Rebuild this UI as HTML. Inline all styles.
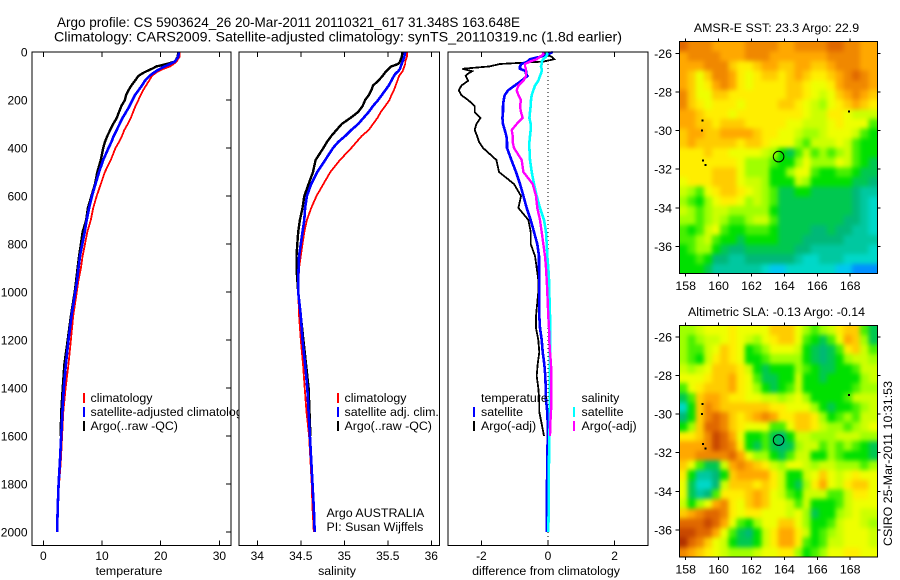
<!DOCTYPE html>
<html>
<head>
<meta charset="utf-8">
<title>Argo profile</title>
<style>
html,body{margin:0;padding:0;background:#fff;}
svg{display:block;}
text{font-family:"Liberation Sans",Arial,sans-serif;font-size:12.4px;fill:#000;}
</style>
</head>
<body>
<svg id="chart" xmlns="http://www.w3.org/2000/svg" width="900" height="580" viewBox="0 0 900 580">
<defs>
<filter id="mapSmooth" filterUnits="userSpaceOnUse" x="660" y="20" width="240" height="560" color-interpolation-filters="sRGB">
<feGaussianBlur stdDeviation="2.4"/>
<feComponentTransfer><feFuncA type="linear" slope="60" intercept="0"/></feComponentTransfer>
</filter>
<clipPath id="clipSst"><rect x="679.3" y="41.5" width="198" height="232"/></clipPath>
<clipPath id="clipSla"><rect x="679.3" y="325.5" width="198" height="231.5"/></clipPath>
</defs>
<rect x="0" y="0" width="900" height="580" fill="#fff"/>
<text x="57" y="27" textLength="463" lengthAdjust="spacingAndGlyphs" style="font-size:13.6px">Argo profile: CS 5903624_26 20-Mar-2011 20110321_617 31.348S 163.648E</text>
<text x="54" y="41.5" textLength="568" lengthAdjust="spacingAndGlyphs" style="font-size:13.6px">Climatology: CARS2009. Satellite-adjusted climatology: synTS_20110319.nc (1.8d earlier)</text>
<g id="layer"></g>
<text transform="translate(892,463.5) rotate(-90)" text-anchor="middle" textLength="165">CSIRO 25-Mar-2011 10:31:53</text>
</svg>
<script>
// ---------- profile data ----------
const profileDepths=[0,20,40,50,60,70,80,90,100,120,140,160,180,200,225,250,275,300,325,350,375,400,450,500,550,600,650,700,750,800,850,900,950,1000,1100,1200,1300,1400,1500,1600,1700,1800,1900,2000];
const tempClim=[23.2,23.2,22.7,22.2,21.6,20.5,19.6,19.0,18.5,18.0,17.5,17.0,16.6,16.2,15.7,15.3,14.9,14.4,13.8,13.4,12.9,12.3,11.5,10.5,9.8,9.1,8.5,8.1,7.5,7.1,6.7,6.4,6.0,5.7,5.1,4.7,4.3,3.8,3.4,3.2,3.0,2.7,2.45,2.3];
const tempSat=[23.1,23.0,22.4,21.6,20.7,19.9,19.2,18.6,18.1,17.3,16.8,16.2,15.6,15.2,14.7,14.1,13.5,13.0,12.5,12.0,11.6,11.1,10.2,9.5,8.9,8.3,7.8,7.4,7.05,6.65,6.25,6.0,5.75,5.45,4.8,4.3,3.85,3.5,3.25,3.05,2.85,2.6,2.45,2.35];
const tempArgo=[23.0,22.9,22.4,21.0,19.3,18.5,17.6,16.8,16.2,15.6,15.0,14.5,14.1,13.9,13.3,12.9,12.5,11.9,11.4,10.9,10.5,10.2,9.8,9.2,8.8,8.2,7.6,7.3,6.7,6.4,6.1,5.85,5.6,5.35,4.7,4.15,3.6,3.3,3.05,2.95];
const salClim=[35.72,35.72,35.70,35.70,35.69,35.68,35.67,35.65,35.63,35.61,35.59,35.57,35.54,35.52,35.47,35.42,35.38,35.33,35.28,35.2,35.14,35.08,34.95,34.84,34.76,34.68,34.62,34.57,34.54,34.52,34.5,34.48,34.475,34.47,34.48,34.5,34.525,34.545,34.565,34.595,34.61,34.625,34.635,34.65];
const salSat=[35.70,35.69,35.67,35.66,35.65,35.64,35.62,35.59,35.57,35.54,35.51,35.47,35.43,35.39,35.33,35.28,35.22,35.16,35.08,35.01,34.93,34.87,34.78,34.69,34.62,34.57,34.55,34.54,34.52,34.5,34.48,34.475,34.47,34.47,34.5,34.52,34.55,34.575,34.59,34.605,34.62,34.635,34.65,34.66];
const salArgo=[35.67,35.66,35.64,35.62,35.54,35.51,35.48,35.46,35.44,35.39,35.33,35.31,35.28,35.24,35.21,35.16,35.07,34.97,34.91,34.85,34.8,34.76,34.67,34.64,34.59,34.54,34.52,34.49,34.47,34.46,34.45,34.45,34.46,34.47,34.5,34.53,34.56,34.59,34.6,34.61];
const diffDepths=[0,10,20,30,40,50,60,70,80,90,100,120,140,160,180,200,225,250,275,300,325,350,375,400,450,500,550,600,650,700,750,800,850,900,950,1000,1100,1150,1200,1250,1300,1350,1400,1450,1500,1550,1600,1700,1800,1900,2000];
const diffTempArgo=[-0.14,-0.04,0.11,0.19,-0.14,-1.45,-1.75,-2.57,-2.28,-2.4,-2.47,-2.4,-2.6,-2.68,-2.6,-2.4,-2.2,-2.2,-2.03,-2.15,-2.2,-2.13,-2.07,-1.95,-1.55,-1.47,-1.02,-0.81,-0.89,-0.59,-0.52,-0.52,-0.39,-0.34,-0.29,-0.29,-0.36,-0.36,-0.29,-0.26,-0.31,-0.34,-0.29,-0.26,-0.26,-0.19,-0.12];
const diffTempSat=[0.14,0,-0.24,-0.54,-0.62,-0.8,-0.84,-0.84,-0.66,-0.66,-0.62,-0.8,-1,-1.2,-1.3,-1.33,-1.35,-1.35,-1.37,-1.35,-1.3,-1.25,-1.23,-1.23,-1.1,-0.96,-0.84,-0.74,-0.64,-0.52,-0.42,-0.32,-0.27,-0.27,-0.26,-0.26,-0.26,-0.24,-0.19,-0.16,-0.11,-0.08,-0.07,-0.06,-0.02,-0.01,-0.01,-0.02,-0.03,-0.04,-0.04];
const diffSalArgo=[-0.14,-0.14,-0.24,-0.34,-0.54,-0.69,-0.69,-0.66,-0.66,-0.66,-0.66,-0.74,-0.89,-0.94,-0.89,-0.81,-0.84,-0.81,-0.76,-0.94,-1.09,-1.06,-1.06,-1.02,-0.79,-0.74,-0.46,-0.36,-0.32,-0.24,-0.19,-0.14,-0.09,-0.06,-0.04,-0.02,0.01,0.03,0.04,0.06,0.09,0.1,0.1,0.1,0.09,0.07,0.06];
const diffSalSat=[-0.04,-0.02,-0.06,-0.14,-0.19,-0.19,-0.21,-0.19,-0.19,-0.21,-0.24,-0.29,-0.39,-0.44,-0.49,-0.51,-0.52,-0.54,-0.56,-0.52,-0.52,-0.54,-0.56,-0.56,-0.54,-0.49,-0.42,-0.34,-0.24,-0.12,-0.06,-0.04,-0.02,0.01,0.03,0.04,0.06,0.06,0.06,0.06,0.05,0.05,0.05,0.05,0.05,0.05,0.04,0.03,0.02,0.02,0.01];
// ---------- tick labels ----------
const depthTicks=[0,200,400,600,800,1000,1200,1400,1600,1800,2000];
const tempTicks=[0,10,20,30];
const salTicks=[34,34.5,35,35.5,36];
const diffTicks=[-2,0,2];
const lonTicks=[158,160,162,164,166,168];
const latTicks=[-26,-28,-30,-32,-34,-36];
// ---------- map data: colour level per 0.5 degree cell, north to south ----------
const sstGrid=[
[15,14,14,14,13,13,13,13,14,14,14,14,13,13,14,14,14,14,15,15,14,14,13,13],
[13,14,14,14,14,13,13,13,14,14,14,13,13,13,13,13,13,13,14,14,14,14,13,13],
[13,13,13,14,14,14,12,11,11,12,13,13,12,12,13,13,12,12,13,14,14,14,13,13],
[13,12,10,12,14,14,13,11,10,11,12,12,11,12,13,12,11,11,12,13,14,15,14,13],
[13,12,10,11,13,14,13,11,10,11,11,11,11,12,12,11,10,10,11,13,14,14,14,13],
[14,12,10,10,12,12,11,11,11,11,11,11,11,12,12,11,10,9,10,12,13,14,13,12],
[14,12,11,10,11,11,11,10,11,11,11,11,12,12,11,10,9,8,10,11,12,13,12,11],
[13,13,12,11,11,11,10,11,11,11,11,11,11,11,11,10,9,9,11,11,10,9,9,9],
[13,13,12,12,11,12,12,12,11,11,11,11,11,10,10,9,9,9,10,11,10,10,10,7],
[12,13,13,12,12,13,13,13,13,12,11,11,10,10,9,8,8,9,10,10,10,9,7,6],
[12,13,12,12,12,12,12,11,12,12,11,10,10,10,8,7,9,9,9,10,9,7,6,6],
[11,11,11,12,11,11,10,10,10,10,9,8,6,5,7,9,7,8,7,8,9,7,6,6],
[11,11,11,11,11,11,11,10,8,8,8,7,6,6,8,10,8,8,8,10,9,7,6,5],
[11,11,11,11,12,12,12,10,8,8,8,6,6,8,10,10,7,6,6,7,7,6,5,5],
[10,11,11,11,12,12,12,10,9,9,8,6,6,6,9,8,6,6,6,6,6,5,5,4],
[9,8,7,10,11,12,12,11,10,9,8,7,5,5,6,6,5,5,5,5,5,4,3,3],
[8,7,6,8,10,11,11,10,8,9,8,7,5,5,5,5,5,5,5,5,5,4,3,2],
[9,8,7,8,9,9,8,8,8,8,8,6,5,5,5,5,5,5,5,5,5,4,3,2],
[8,8,7,8,9,8,7,7,8,9,9,7,5,5,5,5,5,5,5,5,4,4,3,2],
[7,6,7,9,10,7,6,6,7,7,7,6,5,5,5,5,4,4,5,4,4,3,3,2],
[7,7,8,9,7,6,6,5,6,6,6,6,5,5,5,4,4,4,4,4,3,3,3,3],
[6,7,8,8,6,5,4,4,5,5,5,5,5,5,4,4,3,3,3,3,3,3,3,2],
[6,6,7,6,4,4,3,3,4,4,4,4,4,4,3,2,2,3,3,3,2,2,2,2],
[6,6,6,5,3,3,3,3,3,3,2,1,1,2,2,2,2,2,2,1,1,0,0,0]
];
const slaGrid=[
[8,8,9,10,10,10,11,10,10,10,10,12,12,12,10,8,7,8,9,11,12,12,7,5],
[8,7,8,9,9,10,11,10,9,8,10,11,12,12,10,7,6,5,7,10,13,12,8,5],
[8,7,7,9,10,12,11,10,6,7,8,10,10,10,9,6,5,4,5,7,11,12,9,7],
[8,7,6,9,11,12,11,10,6,6,7,8,8,8,8,6,5,4,5,6,8,9,9,8],
[9,8,9,10,12,12,12,11,9,6,5,6,6,6,8,7,6,5,5,6,6,7,9,9],
[10,10,10,11,12,12,13,11,10,7,5,5,6,6,9,6,6,5,6,6,6,6,8,9],
[7,10,11,12,12,12,13,11,10,8,6,5,6,7,9,6,6,6,6,6,6,7,8,8],
[5,7,12,13,13,12,11,11,10,10,9,9,8,9,10,8,6,6,6,6,7,9,9,9],
[2,6,12,14,13,12,12,12,12,12,12,11,11,10,10,10,8,6,5,6,6,7,8,9],
[4,6,12,14,15,14,12,11,12,13,14,13,11,11,12,12,11,8,6,7,8,7,9,9],
[6,8,12,15,15,14,12,11,10,10,10,7,7,10,12,12,11,9,8,8,7,8,9,10],
[11,11,12,14,16,15,13,10,6,6,7,5,4,6,9,9,8,8,8,9,9,9,8,8],
[13,13,13,14,16,15,14,11,6,5,7,5,4,5,8,9,9,7,8,7,8,7,6,5],
[13,13,14,14,14,14,15,13,10,8,8,6,5,7,9,9,6,6,8,7,6,6,6,5],
[12,10,7,5,5,9,13,14,13,12,11,9,8,10,10,9,8,9,9,8,8,8,7,8],
[11,6,3,3,4,6,12,13,13,13,13,11,9,6,6,9,10,12,10,9,10,11,10,10],
[10,5,2,2,4,9,12,12,12,11,12,11,9,6,5,8,11,13,10,9,11,12,12,10],
[10,5,3,4,7,11,11,11,12,13,12,10,9,7,6,9,9,9,7,7,9,11,11,10],
[9,6,8,10,13,14,11,10,12,13,12,10,10,9,7,9,6,6,6,7,9,10,10,10],
[12,13,14,15,15,14,11,10,11,11,10,10,10,9,10,8,5,6,6,8,9,10,9,9],
[15,15,15,16,15,13,10,7,6,8,10,10,12,12,10,8,6,6,7,9,10,10,9,8],
[16,16,15,15,13,10,7,5,4,6,9,11,13,13,11,9,6,7,8,9,10,10,10,9],
[17,15,14,12,10,9,6,5,5,6,9,11,13,13,11,7,6,7,9,9,10,10,10,9],
[14,13,12,11,10,9,8,8,8,9,10,10,11,11,8,6,7,8,10,10,11,11,10,10]
];
const levelColours=["#0090ff","#00c8f0","#00d8c8","#00c8a0","#00b878","#00c850","#00e000","#48f000","#a0ff00","#ccff00","#eeff00","#ffee00","#ffcc00","#ffa800","#f08800","#e06800","#c84800","#b03000"];
const gridWestLon=157.6;
const gridNorthLat=-25.4;
const gridStepDeg=0.5;
const profileLon=163.648;
const profileLat=-31.348;
const islandLons=[159.01,159.0,159.05,159.19,167.93];
const islandLats=[-29.47,-30.0,-31.55,-31.78,-29.02];

const NS="http://www.w3.org/2000/svg";
const layer=document.getElementById("layer");
function el(tag,attrs,parent){
  const e=document.createElementNS(NS,tag);
  for(const k in attrs){e.setAttribute(k,attrs[k]);}
  (parent||layer).appendChild(e);
  return e;
}
function lbl(str,x,y,anchor,name,parent){
  const t=el("text",{x:x,y:y,"text-anchor":anchor},parent);
  
  
  t.textContent=str;
  return t;
}
function seg(x1,y1,x2,y2,name,parent){
  const l=el("line",{x1:x1,y1:y1,x2:x2,y2:y2,stroke:"#000","stroke-width":1,"shape-rendering":"crispEdges"},parent);
  
  
  return l;
}
const TOP=52,BOTTOM=545.5;
function yDepth(d){return 52+0.24*d;}

function drawPanel(cfg){
  const g=el("g",{});
  
  
  const frame=el("rect",{x:cfg.left,y:TOP,width:cfg.right-cfg.left,height:BOTTOM-TOP,fill:"#fff",stroke:"none"},g);
  
  
  cfg.ticks.forEach(function(v){
    const x=cfg.x(v);
    seg(x,TOP,x,TOP+5,'x-tick-top',g);
    seg(x,BOTTOM,x,BOTTOM-5,'x-tick-bottom',g);
    const tick=lbl(String(v),x,560,"middle",'x-tick-label',g);
    tick.style.fontSize="12px";
  });
  if(cfg.depthAxis){
    depthTicks.forEach(function(d){
      seg(cfg.right,yDepth(d),cfg.right-5,yDepth(d),'y-tick',g);
      const dl=lbl(String(d),27.5,yDepth(d)+4.5,"end",'y-tick-label',g);
      dl.style.fontSize="12px";
    });
  }
  if(cfg.zero){
    const z=el("line",{x1:cfg.x(0),y1:TOP,x2:cfg.x(0),y2:BOTTOM,stroke:"#000","stroke-width":1,"stroke-dasharray":"1 3","shape-rendering":"crispEdges"},g);
    
    
  }
  cfg.series.forEach(function(s){
    const pts=s.values.map(function(v,i){return cfg.x(v).toFixed(1)+","+yDepth(s.depths[i]).toFixed(1);}).join(" ");
    const p=el("polyline",{points:pts,fill:"none",stroke:s.color,"stroke-width":s.width,"stroke-linejoin":"miter","shape-rendering":"crispEdges"},g);
    
    
  });
  cfg.legend.forEach(function(e){
    if(e.color){
      const h=el("line",{x1:e.hx,y1:e.y-5,x2:e.hx,y2:e.y+5,stroke:e.color,"stroke-width":2,"shape-rendering":"crispEdges"},g);
      
      
    }
    lbl(e.text,e.tx,e.y+4,"start",'legend-entry',g);
  });
  const border=el("rect",{x:cfg.left,y:TOP,width:cfg.right-cfg.left,height:BOTTOM-TOP,fill:"none",stroke:"#000","stroke-width":1,"shape-rendering":"crispEdges"},g);
  
  
  lbl(cfg.title,cfg.titleX,575,"middle",cfg.name+'-x-axis-title',g);
}

const x1=function(v){return 43.3+5.87*v;};
const x2=function(v){return 257.3+87*(v-34);};
const x3=function(v){return 548+33.3*v;};

drawPanel({name:"temperature-panel",left:32,right:231,x:x1,ticks:tempTicks,depthAxis:true,title:"temperature",titleX:129,
 series:[
  {name:"temperature-climatology-line",values:tempClim,depths:profileDepths,color:"#ff0000",width:1.8},
  {name:"temperature-argo-line",values:tempArgo,depths:profileDepths,color:"#000",width:2.4},
  {name:"temperature-satellite-line",values:tempSat,depths:profileDepths,color:"#0000ff",width:2.6}],
 legend:[
  {color:"#ff0000",hx:84,tx:90.5,y:398,text:"climatology"},
  {color:"#0000ff",hx:84,tx:90.5,y:412,text:"satellite-adjusted climatology"},
  {color:"#000",hx:84,tx:90.5,y:426,text:"Argo(..raw -QC)"}]});

drawPanel({name:"salinity-panel",left:239,right:439.5,x:x2,ticks:salTicks,depthAxis:false,title:"salinity",titleX:337,
 series:[
  {name:"salinity-climatology-line",values:salClim,depths:profileDepths,color:"#ff0000",width:1.8},
  {name:"salinity-argo-line",values:salArgo,depths:profileDepths,color:"#000",width:2.4},
  {name:"salinity-satellite-line",values:salSat,depths:profileDepths,color:"#0000ff",width:2.6}],
 legend:[
  {color:"#ff0000",hx:338,tx:344.5,y:398,text:"climatology"},
  {color:"#0000ff",hx:338,tx:344.5,y:412,text:"satellite adj. clim."},
  {color:"#000",hx:338,tx:344.5,y:426,text:"Argo(..raw -QC)"},
  {tx:326.5,y:513,text:"Argo AUSTRALIA"},
  {tx:326.5,y:527,text:"PI: Susan Wijffels"}]});

drawPanel({name:"difference-panel",left:448,right:648,x:x3,ticks:diffTicks,depthAxis:false,zero:true,title:"difference from climatology",titleX:546,
 series:[
  {name:"temperature-difference-argo-line",values:diffTempArgo,depths:diffDepths,color:"#000",width:1.8},
  {name:"temperature-difference-satellite-line",values:diffTempSat,depths:diffDepths,color:"#0000ff",width:2.6},
  {name:"salinity-difference-satellite-line",values:diffSalSat,depths:diffDepths,color:"#00ffff",width:2.6},
  {name:"salinity-difference-argo-line",values:diffSalArgo,depths:diffDepths,color:"#ff00ff",width:2.4}],
 legend:[
  {tx:481,y:398,text:"temperature"},
  {color:"#0000ff",hx:474,tx:481,y:412,text:"satellite"},
  {color:"#000",hx:474,tx:481,y:426,text:"Argo(-adj)"},
  {tx:581.5,y:398,text:"salinity"},
  {color:"#00ffff",hx:574,tx:581.5,y:412,text:"satellite"},
  {color:"#ff00ff",hx:574,tx:581.5,y:426,text:"Argo(-adj)"}]});

function drawMap(cfg){
  const g=el("g",{});
  
  
  const L=679.3,R=877.3;
  const lonX=function(lon){return 685.7+16.45*(lon-158);};
  const latY=function(lat){return cfg.lat26+19.32*(-26-lat);};
  const clip=el("g",{"clip-path":"url(#"+cfg.clip+")"},g);
  
  
  const cells=el("g",{filter:"url(#mapSmooth)"},clip);
  
  
  cfg.grid.forEach(function(row,r){
    row.forEach(function(level,c){
      const lon=gridWestLon+c*gridStepDeg, lat=gridNorthLat-r*gridStepDeg;
      const xa=lonX(lon), xb=lonX(lon+gridStepDeg), ya=latY(lat), yb=latY(lat-gridStepDeg);
      const cell=el("rect",{x:xa.toFixed(1),y:ya.toFixed(1),width:(xb-xa+0.6).toFixed(1),height:(yb-ya+0.6).toFixed(1),fill:levelColours[level],"shape-rendering":"crispEdges"},cells);
      
      
    });
  });
  const T=cfg.top,B=cfg.bottom;
  islandLons.forEach(function(lon,i){
    const d=el("rect",{x:(lonX(lon)-1).toFixed(1),y:(latY(islandLats[i])-1).toFixed(1),width:2,height:2,fill:"#000","shape-rendering":"crispEdges"},g);
    
    
  });
  const ring=el("circle",{cx:lonX(profileLon).toFixed(1),cy:latY(profileLat).toFixed(1),r:5.3,fill:"none",stroke:"#000","stroke-width":1},g);
  
  
  lonTicks.forEach(function(lon){
    seg(lonX(lon),T,lonX(lon),T-3,'map-x-tick',g);
    seg(lonX(lon),B,lonX(lon),B+3,'map-x-tick',g);
    lbl(String(lon),lonX(lon),B+16.5,"middle",'map-x-tick-label',g);
  });
  latTicks.forEach(function(lat){
    seg(L,latY(lat),L-4,latY(lat),'map-y-tick',g);
    seg(R,latY(lat),R+3,latY(lat),'map-y-tick',g);
    lbl(String(lat),672,latY(lat)+4.5,"end",'map-y-tick-label',g);
  });
  const b=el("rect",{x:L,y:T,width:R-L,height:B-T,fill:"none",stroke:"#000","stroke-width":1,"shape-rendering":"crispEdges"},g);
  
  
  lbl(cfg.title,776.5,T-9.5,"middle",cfg.name+'-title',g);
}
drawMap({name:"sst-map",grid:sstGrid,top:41.5,bottom:273.5,lat26:53.3,clip:"clipSst",title:"AMSR-E SST: 23.3 Argo: 22.9"});
drawMap({name:"sla-map",grid:slaGrid,top:325.5,bottom:557,lat26:336.8,clip:"clipSla",title:"Altimetric SLA: -0.13 Argo: -0.14"});
</script>
</body>
</html>
